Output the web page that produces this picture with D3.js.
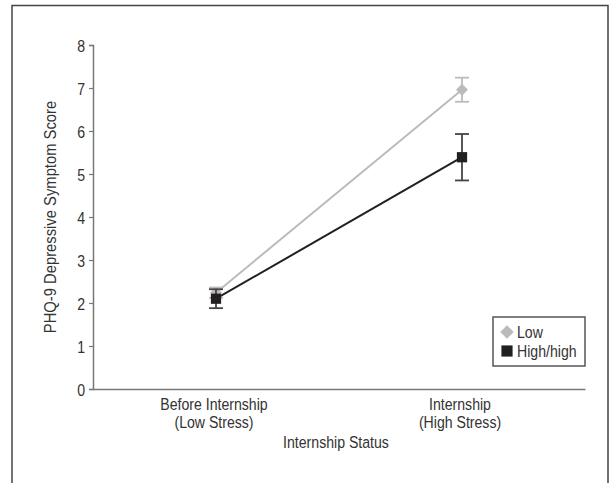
<!DOCTYPE html>
<html>
<head>
<meta charset="utf-8">
<script src="https://cdn.jsdelivr.net/npm/d3@7"></script>
<style>
  body { margin: 0; background: #fff; }
  text { font-family: "Liberation Sans", Arial, sans-serif; fill: #333; }
</style>
</head>
<body>
<script>
(function() {

// data
var categories = ["Before Internship\n(Low Stress)", "Internship\n(High Stress)"];
var seriesNames = ["Low", "High/high"];
var lowMeans = [2.24, 6.96];
var lowErrors = [0.12, 0.28];
var highMeans = [2.1, 5.39];
var highErrors = [0.22, 0.54];
var yTicks = [0, 1, 2, 3, 4, 5, 6, 7, 8];

var width = 615, height = 483;
var margin = { top: 45, right: 30, bottom: 94, left: 93 };
var fontSize = 17;
var squeeze = 0.83; // the original uses a condensed face, fake it with a horizontal squeeze

var svg = d3.select("body").append("svg")
    .attr("width", width)
    .attr("height", height);

// outer frame (bottom edge is cut off in the original)
svg.append("path")
    .attr("d", "M12,490V5.5H608V490")
    .attr("fill", "none")
    .attr("stroke", "#444")
    .attr("stroke-width", 1.5);

var x = d3.scalePoint()
    .domain(categories)
    .range([margin.left, width - margin.right])
    .padding(0.5);

var y = d3.scaleLinear()
    .domain([0, 8])
    .range([height - margin.bottom, margin.top]);

// places a squeezed label with its anchor at (px, py)
function label(parent, px, py, str, anchor, rotate, sq) {
    var g = parent.append("g")
        .attr("transform", "translate(" + px + "," + py + ")" + (rotate ? " rotate(" + rotate + ")" : "") + " scale(" + (sq || squeeze) + ",1)");
    return g.append("text")
        .attr("text-anchor", anchor || "middle")
        .attr("font-size", fontSize + "px")
        .text(str);
}

// y axis
var yAxis = svg.append("g")
    .attr("transform", "translate(" + margin.left + ",0)")
    .call(d3.axisLeft(y).tickValues(yTicks).tickSize(4).tickPadding(4));
yAxis.select(".domain").attr("stroke", "#777").attr("stroke-width", 1.5);
yAxis.selectAll(".tick line").attr("stroke", "#777").attr("stroke-width", 1.2);
yAxis.selectAll(".tick text")
    .attr("font-size", fontSize + "px")
    .attr("fill", "#333")
    .attr("font-family", null)
    .attr("x", -8 / squeeze)
    .attr("dy", "0.36em")
    .attr("transform", "scale(" + squeeze + ",1)");

// x axis, no tick marks
var xAxis = svg.append("g")
    .attr("transform", "translate(0," + y(0) + ")")
    .call(d3.axisBottom(x).tickSize(0).tickFormat(""));
xAxis.select(".domain").attr("stroke", "#777").attr("stroke-width", 1.5);

// two-line category labels
categories.forEach(function(c) {
    c.split("\n").forEach(function(s, i) {
        label(svg, x(c) - 2, y(0) + 21 + i * 18, s);
    });
});

// axis titles
label(svg, (margin.left + width - margin.right) / 2 - 3, 448, "Internship Status");
label(svg, 56, (y(0) + y(8)) / 2, "PHQ-9 Depressive Symptom Score", "middle", -90, 0.87);

var diamond = {
    draw: function(ctx, size) {
        var r = Math.sqrt(size / 2);
        ctx.moveTo(0, -r); ctx.lineTo(r, 0); ctx.lineTo(0, r); ctx.lineTo(-r, 0); ctx.closePath();
    }
};

var series = [
    { name: seriesNames[0], means: lowMeans, errs: lowErrors, color: "#bbbbbc", bar: "#bbbbbc", shape: diamond, size: 72 },
    { name: seriesNames[1], means: highMeans, errs: highErrors, color: "#231f20", bar: "#444", shape: d3.symbolSquare, size: 105 }
];

var line = d3.line()
    .x(function(d, i) { return x(categories[i]); })
    .y(function(d) { return y(d); });

series.forEach(function(s) {
    var g = svg.append("g");

    // error bars
    var eb = g.selectAll("g.err")
        .data(s.means)
        .enter()
        .append("g")
        .attr("stroke", s.bar)
        .attr("stroke-width", 1.8);
    eb.append("line")
        .attr("x1", function(d, i) { return x(categories[i]); })
        .attr("x2", function(d, i) { return x(categories[i]); })
        .attr("y1", function(d, i) { return y(d + s.errs[i]); })
        .attr("y2", function(d, i) { return y(d - s.errs[i]); });
    eb.append("line")
        .attr("x1", function(d, i) { return x(categories[i]) - 7; })
        .attr("x2", function(d, i) { return x(categories[i]) + 7; })
        .attr("y1", function(d, i) { return y(d + s.errs[i]); })
        .attr("y2", function(d, i) { return y(d + s.errs[i]); });
    eb.append("line")
        .attr("x1", function(d, i) { return x(categories[i]) - 7; })
        .attr("x2", function(d, i) { return x(categories[i]) + 7; })
        .attr("y1", function(d, i) { return y(d - s.errs[i]); })
        .attr("y2", function(d, i) { return y(d - s.errs[i]); });

    g.append("path")
        .datum(s.means)
        .attr("d", line)
        .attr("fill", "none")
        .attr("stroke", s.color)
        .attr("stroke-width", 2);

    g.selectAll("path.pt")
        .data(s.means)
        .enter()
        .append("path")
        .attr("class", "pt")
        .attr("d", d3.symbol().type(s.shape).size(s.size))
        .attr("transform", function(d, i) { return "translate(" + x(categories[i]) + "," + y(d) + ")"; })
        .attr("fill", s.color);
});

// legend
var legend = svg.append("g").attr("transform", "translate(493,317)");
legend.append("rect")
    .attr("width", 92)
    .attr("height", 49)
    .attr("fill", "#fff")
    .attr("stroke", "#555")
    .attr("stroke-width", 1.5);
series.forEach(function(s, i) {
    legend.append("path")
        .attr("d", d3.symbol().type(s.shape).size(s.size + 20)())
        .attr("transform", "translate(14," + (15 + i * 19) + ")")
        .attr("fill", s.color);
    label(legend, 24, 21 + i * 19, s.name, "start");
});

})();
</script>
</body>
</html>
